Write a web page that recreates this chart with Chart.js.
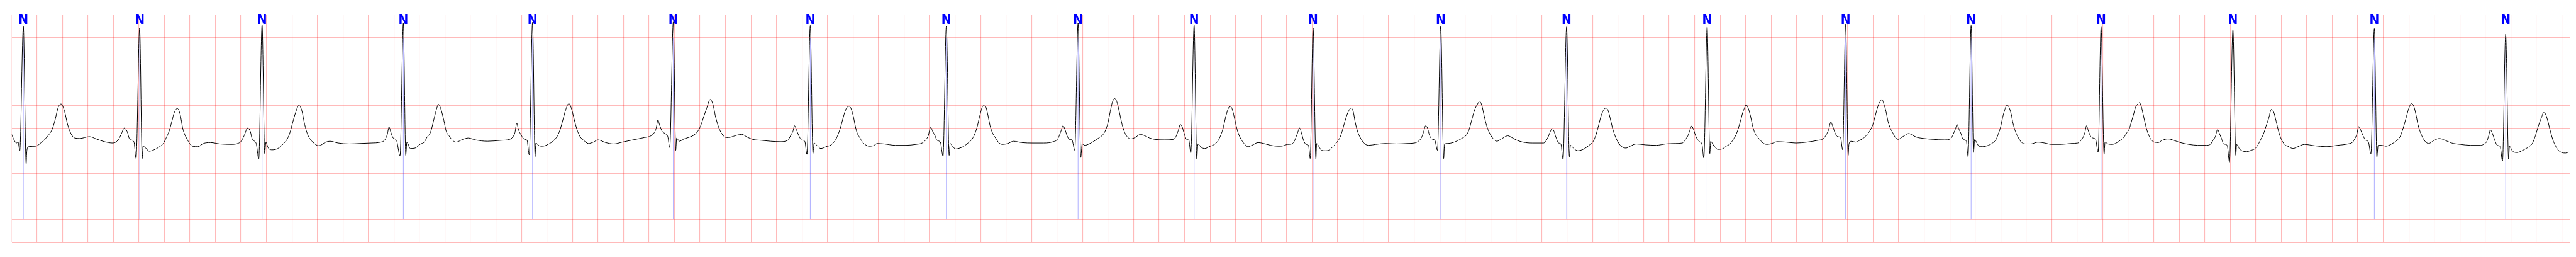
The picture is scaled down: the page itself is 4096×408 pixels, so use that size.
<!DOCTYPE html>
<html>
<head>
<meta charset="utf-8">
<script src="https://cdn.jsdelivr.net/npm/chart.js@4.4.1/dist/chart.umd.min.js"></script>
<style>
  html, body { margin: 0; padding: 0; background: #fff; }
  #ecg { display: block; }
</style>
</head>
<body>
<canvas id="ecg" width="4096" height="408"></canvas>
<script>
// Strip: time in s, amplitude in mV. Grid 0.2 s x 0.5 mV.
const X_MIN = 0.003;
const X_MAX = 20.064;
const Y_MIN = -2.5;
const Y_MAX = 2.5;

// ECG trace [t, mV]
const ECG = [
  [0.003,-0.13],[0.019,-0.24],[0.040,-0.32],[0.053,-0.30],[0.066,-0.49],[0.094,2.25],[0.116,-0.78],[0.122,-0.48],[0.135,-0.40],
  [0.191,-0.39],[0.234,-0.31],[0.278,-0.19],[0.321,-0.01],[0.342,0.18],[0.368,0.47],[0.390,0.54],[0.418,0.37],[0.439,0.11],
  [0.467,-0.11],[0.497,-0.21],[0.536,-0.22],[0.612,-0.18],[0.666,-0.23],[0.730,-0.29],[0.795,-0.32],[0.838,-0.25],[0.864,-0.11],
  [0.885,0.01],[0.907,-0.06],[0.929,-0.24],[0.961,-0.29],
  [0.978,-0.66],[1.006,2.22],[1.026,-0.66],[1.032,-0.39],[1.054,-0.43],[1.080,-0.50],[1.118,-0.47],[1.157,-0.41],[1.194,-0.32],
  [1.215,-0.20],[1.237,-0.06],[1.258,0.15],[1.280,0.37],[1.302,0.44],[1.323,0.32],[1.345,-0.01],[1.377,-0.23],[1.420,-0.39],
  [1.463,-0.40],[1.506,-0.33],[1.560,-0.31],[1.636,-0.34],[1.722,-0.35],[1.776,-0.33],[1.802,-0.28],[1.825,-0.16],[1.853,0.01],
  [1.873,-0.06],[1.890,-0.24],[1.920,-0.33],
  [1.940,-0.67],[1.966,2.29],[1.987,-0.55],[1.996,-0.30],[2.013,-0.42],[2.045,-0.47],[2.089,-0.44],[2.132,-0.34],[2.164,-0.23],
  [2.186,-0.08],[2.207,0.14],[2.229,0.35],[2.255,0.51],[2.278,0.39],[2.300,0.09],[2.326,-0.15],[2.364,-0.30],[2.412,-0.38],
  [2.466,-0.30],[2.498,-0.28],[2.563,-0.32],[2.649,-0.34],[2.735,-0.33],[2.821,-0.32],[2.897,-0.30],[2.929,-0.25],[2.947,-0.14],
  [2.962,0.03],[2.977,-0.09],[2.994,-0.21],[3.020,-0.26],
  [3.048,-0.60],[3.074,2.32],[3.093,-0.59],[3.102,-0.30],[3.128,-0.44],[3.166,-0.43],[3.209,-0.34],[3.238,-0.30],[3.260,-0.19],
  [3.281,-0.12],[3.296,0.00],[3.324,0.32],[3.350,0.53],[3.367,0.44],[3.389,0.21],[3.410,-0.06],[3.432,-0.16],[3.453,-0.24],
  [3.486,-0.30],[3.540,-0.24],[3.583,-0.21],[3.637,-0.25],[3.734,-0.28],[3.841,-0.26],[3.906,-0.24],[3.932,-0.19],[3.949,-0.09],
  [3.964,0.12],[3.975,-0.01],[3.997,-0.14],[4.025,-0.24],[4.044,-0.26],
  [4.061,-0.58],[4.087,2.34],[4.107,-0.62],[4.113,-0.32],[4.139,-0.38],[4.165,-0.39],[4.208,-0.35],[4.251,-0.27],[4.283,-0.16],
  [4.305,-0.01],[4.327,0.21],[4.348,0.42],[4.372,0.55],[4.391,0.45],[4.413,0.21],[4.434,-0.01],[4.460,-0.18],[4.488,-0.26],
  [4.525,-0.33],[4.564,-0.30],[4.600,-0.25],[4.661,-0.31],[4.725,-0.34],[4.790,-0.30],[4.876,-0.25],[4.963,-0.20],[5.016,-0.16],
  [5.042,-0.09],[5.057,0.01],[5.070,0.19],[5.083,0.08],[5.103,-0.06],[5.131,-0.12],[5.148,-0.18],
  [5.163,-0.42],[5.191,2.35],[5.210,-0.48],[5.217,-0.21],[5.238,-0.28],[5.275,-0.23],[5.318,-0.19],[5.355,-0.14],[5.383,-0.06],
  [5.404,0.05],[5.426,0.23],[5.452,0.44],[5.480,0.64],[5.501,0.54],[5.523,0.25],[5.549,0.01],[5.577,-0.14],[5.609,-0.20],
  [5.642,-0.19],[5.685,-0.15],[5.728,-0.13],[5.771,-0.19],[5.814,-0.24],[5.879,-0.26],[5.954,-0.28],[6.030,-0.29],[6.088,-0.26],
  [6.112,-0.15],[6.129,-0.06],[6.142,0.06],[6.157,-0.03],[6.174,-0.15],[6.196,-0.25],[6.222,-0.28],
  [6.239,-0.57],[6.265,2.27],[6.286,-0.55],[6.295,-0.32],[6.316,-0.37],[6.347,-0.44],[6.390,-0.40],[6.428,-0.36],[6.461,-0.26],
  [6.482,-0.14],[6.504,0.04],[6.525,0.26],[6.547,0.44],[6.569,0.49],[6.586,0.43],[6.603,0.26],[6.619,0.04],[6.634,-0.11],
  [6.651,-0.19],[6.672,-0.29],[6.694,-0.35],[6.726,-0.39],[6.759,-0.38],[6.791,-0.33],[6.845,-0.34],[6.931,-0.37],[7.017,-0.37],
  [7.093,-0.35],[7.142,-0.32],[7.168,-0.26],[7.190,-0.16],[7.209,0.03],[7.224,-0.06],[7.242,-0.15],[7.259,-0.26],[7.285,-0.30],
  [7.306,-0.61],[7.332,2.26],[7.354,-0.59],[7.362,-0.33],[7.380,-0.39],[7.405,-0.45],[7.438,-0.43],[7.470,-0.39],[7.502,-0.32],
  [7.530,-0.25],[7.552,-0.14],[7.574,0.04],[7.595,0.29],[7.621,0.50],[7.638,0.49],[7.656,0.32],[7.675,0.06],[7.696,-0.11],
  [7.718,-0.21],[7.746,-0.32],[7.772,-0.35],[7.815,-0.33],[7.858,-0.28],[7.923,-0.31],[8.009,-0.32],[8.095,-0.32],[8.171,-0.29],
  [8.203,-0.24],[8.220,-0.14],[8.233,-0.04],[8.246,0.06],[8.261,-0.01],[8.279,-0.16],[8.296,-0.24],[8.317,-0.25],
  [8.339,-0.48],[8.365,2.33],[8.386,-0.64],[8.397,-0.34],[8.419,-0.37],[8.451,-0.34],[8.490,-0.28],[8.526,-0.21],[8.559,-0.14],
  [8.580,-0.04],[8.598,0.11],[8.617,0.37],[8.634,0.58],[8.652,0.66],[8.669,0.59],[8.688,0.37],[8.710,0.09],[8.731,-0.09],
  [8.753,-0.19],[8.779,-0.23],[8.811,-0.20],[8.854,-0.13],[8.889,-0.16],[8.925,-0.21],[8.968,-0.24],[9.044,-0.25],[9.113,-0.24],
  [9.132,-0.18],[9.150,-0.05],[9.167,0.09],[9.182,0.03],[9.197,-0.11],[9.216,-0.24],[9.234,-0.26],
  [9.249,-0.54],[9.275,2.28],[9.296,-0.67],[9.305,-0.34],[9.328,-0.41],[9.359,-0.44],[9.393,-0.40],[9.428,-0.36],[9.458,-0.29],
  [9.479,-0.18],[9.501,-0.01],[9.522,0.25],[9.540,0.42],[9.555,0.49],[9.572,0.44],[9.589,0.26],[9.609,0.01],[9.626,-0.14],
  [9.648,-0.26],[9.673,-0.35],[9.695,-0.40],[9.729,-0.37],[9.777,-0.31],[9.820,-0.33],[9.874,-0.37],[9.928,-0.39],[9.956,-0.39],
  [10.010,-0.35],[10.042,-0.34],[10.064,-0.26],[10.081,-0.14],[10.103,0.01],[10.118,-0.11],[10.133,-0.26],[10.154,-0.35],[10.172,-0.37],
  [10.185,-0.66],[10.208,2.22],[10.230,-0.68],[10.236,-0.33],[10.254,-0.40],[10.275,-0.48],[10.305,-0.49],[10.336,-0.47],[10.366,-0.39],
  [10.398,-0.29],[10.420,-0.19],[10.441,-0.01],[10.463,0.21],[10.484,0.37],[10.506,0.45],[10.523,0.37],[10.538,0.14],[10.560,-0.09],
  [10.586,-0.24],[10.614,-0.34],[10.646,-0.37],[10.700,-0.35],[10.775,-0.33],[10.862,-0.34],[10.948,-0.33],[11.002,-0.32],[11.034,-0.28],
  [11.056,-0.21],[11.073,-0.09],[11.090,0.06],[11.105,0.01],[11.120,-0.14],[11.138,-0.23],[11.163,-0.26],
  [11.183,-0.48],[11.209,2.25],[11.232,-0.66],[11.239,-0.34],[11.265,-0.33],[11.304,-0.31],[11.340,-0.27],[11.379,-0.21],[11.411,-0.14],
  [11.433,-0.01],[11.454,0.21],[11.476,0.42],[11.498,0.54],[11.513,0.60],[11.530,0.52],[11.551,0.26],[11.569,0.06],[11.590,-0.09],
  [11.616,-0.21],[11.648,-0.28],[11.685,-0.23],[11.735,-0.16],[11.767,-0.20],[11.799,-0.25],[11.853,-0.30],[11.929,-0.32],[12.015,-0.32],
  [12.047,-0.21],[12.065,-0.09],[12.082,0.00],[12.097,-0.06],[12.112,-0.19],[12.134,-0.32],[12.151,-0.34],
  [12.168,-0.68],[12.196,2.24],[12.218,-0.62],[12.226,-0.37],[12.252,-0.44],[12.284,-0.49],[12.317,-0.47],[12.349,-0.42],[12.381,-0.35],
  [12.403,-0.29],[12.424,-0.16],[12.446,0.06],[12.468,0.29],[12.489,0.42],[12.506,0.45],[12.522,0.39],[12.539,0.21],[12.558,-0.01],
  [12.580,-0.19],[12.604,-0.32],[12.629,-0.40],[12.662,-0.43],[12.694,-0.39],[12.742,-0.34],[12.813,-0.36],[12.899,-0.37],[12.974,-0.34],
  [13.050,-0.33],[13.104,-0.32],[13.125,-0.25],[13.147,-0.16],[13.160,-0.06],[13.175,0.05],[13.190,-0.01],[13.205,-0.14],[13.222,-0.24],
  [13.244,-0.30],[13.257,-0.34],
  [13.272,-0.65],[13.298,2.24],[13.319,-0.55],[13.326,-0.28],[13.343,-0.35],[13.360,-0.41],[13.382,-0.46],[13.416,-0.45],[13.447,-0.39],
  [13.477,-0.34],[13.503,-0.24],[13.524,-0.14],[13.541,-0.01],[13.559,0.16],[13.576,0.34],[13.589,0.44],[13.604,0.52],[13.621,0.44],
  [13.639,0.26],[13.656,0.04],[13.671,-0.09],[13.688,-0.17],[13.710,-0.24],[13.736,-0.32],[13.768,-0.35],[13.805,-0.33],[13.848,-0.29],
  [13.919,-0.30],[13.994,-0.32],[14.080,-0.30],[14.167,-0.26],[14.206,-0.23],[14.227,-0.16],[14.249,-0.04],[14.268,0.14],[14.285,0.03],
  [14.303,-0.11],[14.322,-0.18],[14.344,-0.20],
  [14.361,-0.47],[14.384,2.30],[14.404,-0.59],[14.410,-0.34],[14.430,-0.28],[14.462,-0.30],[14.494,-0.26],[14.525,-0.21],[14.550,-0.14],
  [14.572,-0.06],[14.598,0.09],[14.620,0.32],[14.641,0.52],[14.656,0.60],[14.669,0.64],[14.684,0.54],[14.701,0.37],[14.716,0.16],
  [14.734,0.01],[14.753,-0.09],[14.770,-0.18],[14.796,-0.24],[14.826,-0.19],[14.861,-0.13],[14.878,-0.11],[14.904,-0.14],[14.939,-0.19],
  [14.997,-0.22],[15.072,-0.24],[15.158,-0.25],[15.206,-0.23],[15.227,-0.13],[15.245,-0.01],[15.258,0.09],[15.270,0.00],[15.288,-0.11],
  [15.305,-0.24],[15.331,-0.28],
  [15.344,-0.62],[15.368,2.27],[15.387,-0.53],[15.396,-0.24],[15.413,-0.32],[15.430,-0.39],[15.460,-0.40],[15.503,-0.37],[15.536,-0.32],
  [15.564,-0.24],[15.585,-0.09],[15.600,0.04],[15.615,0.24],[15.633,0.42],[15.650,0.52],[15.665,0.47],[15.682,0.32],[15.697,0.11],
  [15.715,-0.06],[15.736,-0.19],[15.762,-0.30],[15.794,-0.34],[15.838,-0.34],[15.891,-0.30],[15.945,-0.32],[15.999,-0.35],[16.075,-0.35],
  [16.150,-0.33],[16.204,-0.32],[16.228,-0.27],[16.247,-0.19],[16.260,-0.09],[16.273,0.06],[16.286,-0.04],[16.301,-0.15],[16.323,-0.21],
  [16.344,-0.24],
  [16.364,-0.52],[16.387,2.24],[16.411,-0.57],[16.418,-0.30],[16.441,-0.34],[16.474,-0.35],[16.506,-0.32],[16.538,-0.26],[16.564,-0.20],
  [16.590,-0.09],[16.608,-0.01],[16.624,0.14],[16.640,0.29],[16.658,0.47],[16.674,0.54],[16.687,0.57],[16.703,0.48],[16.721,0.26],
  [16.742,0.01],[16.760,-0.14],[16.778,-0.24],[16.805,-0.30],[16.835,-0.31],[16.866,-0.26],[16.912,-0.23],[16.957,-0.26],[17.009,-0.31],
  [17.077,-0.35],[17.145,-0.37],[17.213,-0.37],[17.247,-0.34],[17.265,-0.26],[17.283,-0.18],[17.301,-0.02],[17.315,-0.11],[17.330,-0.21],
  [17.348,-0.34],[17.376,-0.37],
  [17.394,-0.74],[17.421,2.18],[17.444,-0.59],[17.450,-0.35],[17.473,-0.45],[17.500,-0.50],[17.530,-0.51],[17.564,-0.48],[17.591,-0.45],
  [17.613,-0.38],[17.636,-0.26],[17.659,-0.13],[17.681,0.05],[17.702,0.23],[17.722,0.42],[17.740,0.37],[17.760,0.16],[17.779,-0.06],
  [17.801,-0.24],[17.826,-0.35],[17.858,-0.40],[17.892,-0.44],[17.930,-0.40],[17.982,-0.35],[18.062,-0.38],[18.152,-0.40],[18.243,-0.37],
  [18.322,-0.34],[18.360,-0.30],[18.376,-0.23],[18.392,-0.13],[18.408,0.04],[18.424,-0.04],[18.442,-0.16],[18.462,-0.26],[18.483,-0.29],
  [18.503,-0.56],[18.530,2.20],[18.550,-0.63],[18.560,-0.37],[18.587,-0.37],[18.621,-0.39],[18.666,-0.34],[18.707,-0.26],[18.732,-0.18],
  [18.754,-0.01],[18.777,0.21],[18.800,0.44],[18.822,0.55],[18.838,0.50],[18.854,0.34],[18.872,0.09],[18.895,-0.11],[18.922,-0.26],
  [18.956,-0.33],[18.994,-0.27],[19.039,-0.22],[19.085,-0.26],[19.137,-0.32],[19.205,-0.35],[19.284,-0.37],[19.363,-0.37],[19.393,-0.34],
  [19.411,-0.29],[19.427,-0.16],[19.440,-0.03],[19.456,-0.11],[19.472,-0.24],[19.494,-0.37],[19.517,-0.40],
  [19.535,-0.72],[19.560,2.08],[19.583,-0.68],[19.590,-0.39],[19.612,-0.49],[19.646,-0.53],[19.680,-0.50],[19.714,-0.45],[19.748,-0.39],
  [19.771,-0.32],[19.793,-0.16],[19.811,0.01],[19.827,0.14],[19.843,0.26],[19.857,0.35],[19.872,0.32],[19.891,0.16],[19.906,-0.01],
  [19.929,-0.24],[19.952,-0.39],[19.974,-0.48],[20.001,-0.53],[20.030,-0.54],[20.053,-0.52],
];

// beat annotations (time of each mark, its symbol)
const BEAT_T = [
  0.094, 1.006, 1.966, 3.074, 4.087, 5.191, 6.265, 7.332, 8.365, 9.275,
  10.208, 11.209, 12.196, 13.298, 14.384, 15.368, 16.387, 17.421, 18.530, 19.560,
];
const BEAT_SYMBOL = ['N','N','N','N','N','N','N','N','N','N','N','N','N','N','N','N','N','N','N','N'];
const MARK_LOW = -2.0;   // annotation line spans -2..2 mV
const MARK_HIGH = 2.0;
const SYMBOL_MV = 2.3;   // baseline of the symbol

// grid ticks: x every 0.2 s from 0.2 to 20.0 (plus the left edge), y every 0.5 mV
const X_TICKS = [X_MIN];
for (let k = 1; k <= 100; k++) X_TICKS.push(+(k * 0.2).toFixed(1));
const Y_TICKS = [-2.5, -2.0, -1.5, -1.0, -0.5, 0, 0.5, 1.0, 1.5, 2.0];

const GRID = 'rgba(255, 0, 0, 0.27)';
const GRID_EDGE = 'rgba(255, 0, 0, 0.16)';

const trace = ECG.map(([t, v]) => ({ x: t, y: v }));
const marks = [];
BEAT_T.forEach((t) => {
    marks.push({ x: t, y: MARK_LOW }, { x: t, y: MARK_HIGH }, { x: t, y: null });
});

const beatSymbols = {
    id: 'beatSymbols',
    afterDatasetsDraw(chart) {
        const { ctx, scales: { x, y } } = chart;
        ctx.save();
        ctx.fillStyle = '#0000ff';
        ctx.font = 'bold 21px "Liberation Sans Narrow", "DejaVu Sans Condensed", sans-serif';
        ctx.textAlign = 'center';
        ctx.textBaseline = 'alphabetic';
        BEAT_T.forEach((t, i) => {
            ctx.fillText(BEAT_SYMBOL[i], x.getPixelForValue(t), y.getPixelForValue(SYMBOL_MV));
        });
        ctx.restore();
    },
};

new Chart(document.getElementById('ecg'), {
    type: 'line',
    data: {
        datasets: [
            {
                data: trace,
                borderColor: '#000000',
                borderWidth: 1.0,
                pointRadius: 0,
                cubicInterpolationMode: 'monotone',
                order: 0,
            },
            {
                data: marks,
                borderColor: 'rgba(0, 0, 255, 0.55)',
                borderWidth: 0.6,
                pointRadius: 0,
                spanGaps: false,
                order: 1,
            },
        ],
    },
    options: {
        responsive: false,
        maintainAspectRatio: false,
        devicePixelRatio: 1,
        animation: false,
        events: [],
        layout: { padding: { left: 18.66, right: 9.6, top: 23.9, bottom: 23.9 } },
        plugins: { legend: { display: false }, tooltip: { enabled: false } },
        scales: {
            x: {
                type: 'linear',
                min: X_MIN,
                max: X_MAX,
                bounds: 'data',
                afterBuildTicks: (s) => { s.ticks = X_TICKS.map((v) => ({ value: v })); },
                ticks: { display: false },
                border: { display: false },
                grid: {
                    drawTicks: false,
                    color: (c) => (c.index === 0 ? GRID_EDGE : GRID),
                    lineWidth: (c) => (c.index === 0 ? 0.7 : 1.1),
                },
            },
            y: {
                type: 'linear',
                min: Y_MIN,
                max: Y_MAX,
                bounds: 'data',
                afterBuildTicks: (s) => { s.ticks = Y_TICKS.map((v) => ({ value: v })); },
                ticks: { display: false },
                border: { display: false },
                grid: { drawTicks: false, color: GRID, lineWidth: 1.1 },
            },
        },
    },
    plugins: [beatSymbols],
});
</script>
</body>
</html>
